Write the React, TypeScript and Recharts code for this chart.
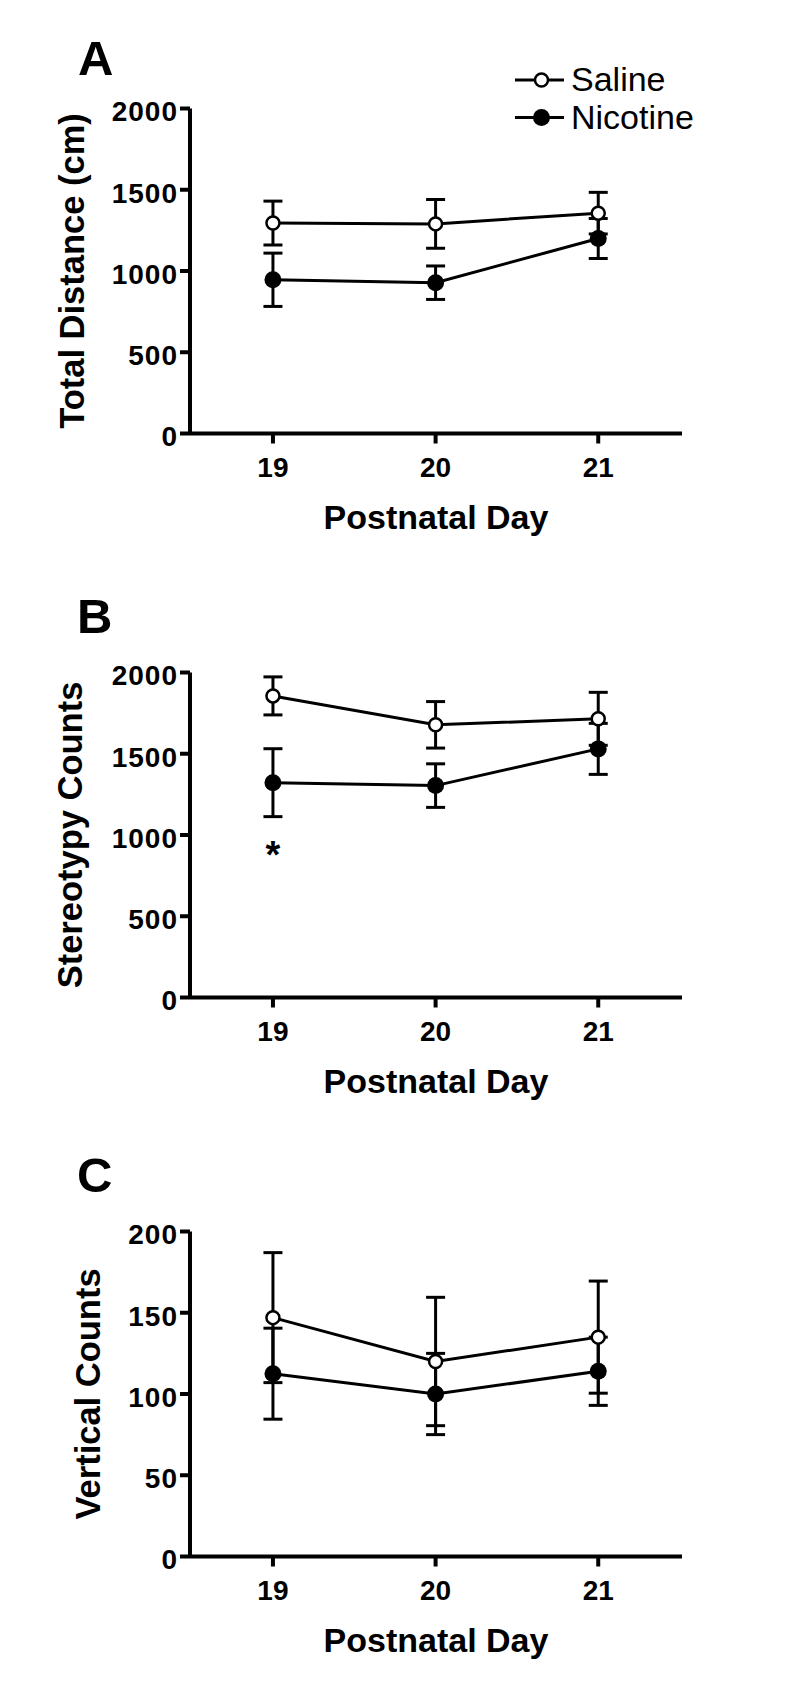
import React from 'react';
import { LineChart, Line, XAxis, YAxis, ErrorBar, ReferenceDot, Customized, Label } from 'recharts';

// ---------- data ----------
const days = [19, 20, 21];
const dayTicks = [19, 20, 21];
const seriesNames = ['Saline', 'Nicotine'];
const xLabel = 'Postnatal Day';

const distanceSaline = [1295, 1290, 1356];
const distanceSalineSem = [135, 150, 128];
const distanceNicotine = [946, 928, 1200];
const distanceNicotineSem = [164, 103, 123];
const distanceTicks = [0, 500, 1000, 1500, 2000];

const stereoSaline = [1856, 1678, 1715];
const stereoSalineSem = [117, 143, 163];
const stereoNicotine = [1322, 1304, 1530];
const stereoNicotineSem = [209, 134, 157];
const stereoTicks = [0, 500, 1000, 1500, 2000];
const stereoStar = { day: 19, value: 880, text: '*' };

const verticalSaline = [147, 120, 135];
const verticalSalineSem = [40, 39.5, 34.5];
const verticalNicotine = [112.5, 100, 114];
const verticalNicotineSem = [28, 25, 21];
const verticalTicks = [0, 50, 100, 150, 200];

const buildRows = (sal: number[], salSem: number[], nic: number[], nicSem: number[]) =>
  days.map((d, i) => ({ day: d, saline: sal[i], salineSem: salSem[i], nicotine: nic[i], nicotineSem: nicSem[i] }));

const FONT = '"Liberation Sans", Arial, Helvetica, sans-serif';

const CHART_W = 800;
const CHART_H = 560;
const PLOT_TOP = 108.5;
const PLOT_H = 325;
const Y_AXIS_W = 190;
const RIGHT = 118;
const X_AXIS_H = 100;

const YTick = (props: any) => {
  const { x, y, payload } = props;
  return (
    <text x={x} y={y + 3} dy="0.355em" textAnchor="end" fontFamily={FONT} fontWeight="bold"
      fontSize={28} letterSpacing={1} fill="#000">
      {payload.value}
    </text>
  );
};

const XTick = (props: any) => {
  const { x, y, payload } = props;
  return (
    <text x={x} y={y} dy="0.716em" textAnchor="middle" fontFamily={FONT} fontWeight="bold"
      fontSize={28} fill="#000">
      {payload.value}
    </text>
  );
};

const LegendBlock = () => (
  <g>
    {seriesNames.map((name, i) => {
      const y = 80 + i * 37.5;
      const open = i === 0;
      return (
        <g key={name}>
          <line x1={515} x2={564} y1={y} y2={y} stroke="#000" strokeWidth={3} />
          <circle cx={541.5} cy={y} r={open ? 6.5 : 8.5} fill={open ? '#fff' : '#000'} stroke="#000" strokeWidth={open ? 2.5 : 0} />
          <text x={571} y={y + 11} fontFamily={FONT} fontSize={34} fill="#000">{name}</text>
        </g>
      );
    })}
  </g>
);

type PanelProps = {
  top: number;
  letter: string;
  letterX: number;
  letterBaseline: number;
  yLabel: string;
  yLabelX: number;
  rows: any[];
  yTicks: number[];
  legend?: boolean;
  star?: { day: number; value: number; text: string };
};

const Panel = ({ top, letter, letterX, letterBaseline, yLabel, yLabelX, rows, yTicks, legend, star }: PanelProps) => (
  <div style={{ position: 'absolute', left: 0, top }}>
    <LineChart
      width={CHART_W}
      height={CHART_H}
      data={rows}
      margin={{ top: PLOT_TOP, right: RIGHT, left: 0, bottom: CHART_H - PLOT_TOP - PLOT_H - X_AXIS_H }}
    >
      <XAxis
        dataKey="day"
        type="number"
        domain={[18.49, 21.515]}
        ticks={dayTicks}
        height={X_AXIS_H}
        axisLine={{ stroke: '#000', strokeWidth: 4 }}
        tickLine={{ stroke: '#000', strokeWidth: 4 }}
        tickSize={10}
        tickMargin={13}
        tick={<XTick />}
        allowDataOverflow
      >
        <Label
          content={(p: any) => {
            const vb = p.viewBox;
            return (
              <text x={vb.x + vb.width / 2} y={vb.y + 95} textAnchor="middle" fontFamily={FONT}
                fontWeight="bold" fontSize={34} fill="#000">{xLabel}</text>
            );
          }}
        />
      </XAxis>
      <YAxis
        width={Y_AXIS_W}
        domain={[yTicks[0], yTicks[yTicks.length - 1]]}
        ticks={yTicks}
        axisLine={{ stroke: '#000', strokeWidth: 4 }}
        tickLine={{ stroke: '#000', strokeWidth: 4 }}
        tickSize={10}
        tickMargin={2}
        tick={<YTick />}
        allowDataOverflow
      >
        <Label
          content={(p: any) => {
            const vb = p.viewBox;
            const cy = vb.y + vb.height / 2;
            return (
              <text transform={`translate(${yLabelX}, ${cy}) rotate(-90)`} textAnchor="middle"
                fontFamily={FONT} fontWeight="bold" fontSize={34.5} fill="#000">{yLabel}</text>
            );
          }}
        />
      </YAxis>
      <Line
        dataKey="saline"
        name={seriesNames[0]}
        stroke="#000"
        strokeWidth={3}
        isAnimationActive={false}
        dot={{ r: 6.5, fill: '#fff', stroke: '#000', strokeWidth: 2.5 }}
        activeDot={false}
      >
        <ErrorBar dataKey="salineSem" direction="y" width={9.5} stroke="#000" strokeWidth={3} isAnimationActive={false} />
      </Line>
      <Line
        dataKey="nicotine"
        name={seriesNames[1]}
        stroke="#000"
        strokeWidth={3}
        isAnimationActive={false}
        dot={{ r: 8.5, fill: '#000', stroke: '#000', strokeWidth: 0 }}
        activeDot={false}
      >
        <ErrorBar dataKey="nicotineSem" direction="y" width={9.5} stroke="#000" strokeWidth={3} isAnimationActive={false} />
      </Line>
      {star && (
        <ReferenceDot
          x={star.day}
          y={star.value}
          r={1}
          fill="none"
          stroke="none"
          label={{ value: star.text, position: 'center', fontSize: 38, fontWeight: 'bold', fontFamily: FONT, fill: '#000' }}
        />
      )}
      <Customized
        component={() => (
          <g>
            <text x={letterX} y={letterBaseline} fontFamily={FONT} fontWeight="bold" fontSize={49} fill="#000">{letter}</text>
            {legend && <LegendBlock />}
          </g>
        )}
      />
    </LineChart>
  </div>
);

export default function App() {
  return (
    <div style={{ position: 'absolute', left: 0, top: 0, width: 800, height: 1703, background: '#fff' }}>
      <Panel
        top={0}
        letter="A"
        letterX={78}
        letterBaseline={75}
        yLabel="Total Distance (cm)"
        yLabelX={84}
        rows={buildRows(distanceSaline, distanceSalineSem, distanceNicotine, distanceNicotineSem)}
        yTicks={distanceTicks}
        legend
      />
      <Panel
        top={564}
        letter="B"
        letterX={77}
        letterBaseline={68.7}
        yLabel="Stereotypy Counts"
        yLabelX={82}
        rows={buildRows(stereoSaline, stereoSalineSem, stereoNicotine, stereoNicotineSem)}
        yTicks={stereoTicks}
        star={stereoStar}
      />
      <Panel
        top={1123}
        letter="C"
        letterX={77}
        letterBaseline={68.5}
        yLabel="Vertical Counts"
        yLabelX={100}
        rows={buildRows(verticalSaline, verticalSalineSem, verticalNicotine, verticalNicotineSem)}
        yTicks={verticalTicks}
      />
    </div>
  );
}
